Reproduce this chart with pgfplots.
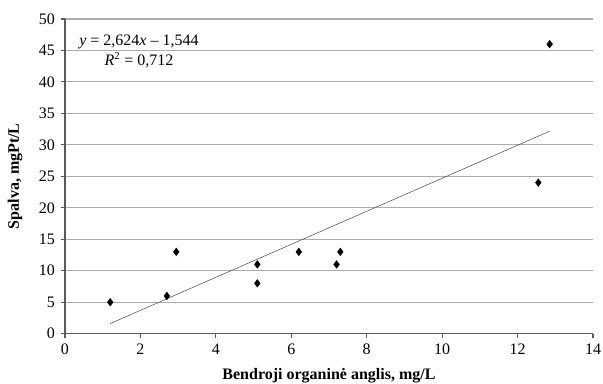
\documentclass[border=0pt]{standalone}
\usepackage{pgfplots}
\pgfplotsset{compat=1.18}
\usetikzlibrary{calc}
\usepackage{fontspec}
\setmainfont{Liberation Serif}
\begin{document}
\begin{tikzpicture}
\begin{axis}[
  scale only axis,
  width=396pt, height=236pt,
  xmin=0, xmax=14, ymin=0, ymax=50,
  xtick={0,2,...,14}, ytick={0,5,...,50},
  axis x line*=bottom, axis y line*=left,
  axis line style={gray!70!black, thick, -},
  tick style={gray!70!black, thick},
  tick align=outside, major tick length=3pt,
  ymajorgrids, grid style={gray!65, thick},
  /pgf/number format/assume math mode=true,
  tick label style={font=\fontsize{12}{14}\selectfont},
  xticklabel style={yshift=-1pt},
  yticklabel style={xshift=-1pt},
  xlabel={\textbf{Bendroji organinė anglis, mg/L}},
  ylabel={\textbf{Spalva, mgPt/L}},
  label style={font=\fontsize{12}{14}\selectfont},
  xlabel style={at={(axis description cs:0.5,0)}, anchor=center, yshift=-31.5pt},
  ylabel style={at={(axis description cs:0,0.5)}, anchor=center, rotate=0, xshift=0pt, yshift=37.5pt},
  clip=false,
]
\addplot[only marks, mark=diamond*, mark size=2.8pt, black] coordinates {
 (1.2,5) (2.7,6) (2.95,13) (5.1,11) (5.1,8) (6.2,13) (7.2,11) (7.3,13) (12.55,24) (12.85,46)
};
\addplot[gray!60!black, thin] coordinates {(1.2,1.605) (12.85,32.174)};
\node[font=\fontsize{12}{14}\selectfont, inner sep=0pt, anchor=center] at (axis cs:1.96,46.3) {\textit{y} = 2,624\textit{x} -- 1,544};
\node[font=\fontsize{12}{14}\selectfont, inner sep=0pt, anchor=center] at (axis cs:1.96,43.5) {\textit{R}\textsuperscript{2} = 0,712};
\coordinate (SW) at (rel axis cs:0,0);
\coordinate (NE) at (rel axis cs:1,1);
\end{axis}
\pgfresetboundingbox
\path[use as bounding box] ($(SW)+(-48.75pt,-37.5pt)$) rectangle ($(NE)+(7.5pt,14.25pt)$);
\end{tikzpicture}
\end{document}
